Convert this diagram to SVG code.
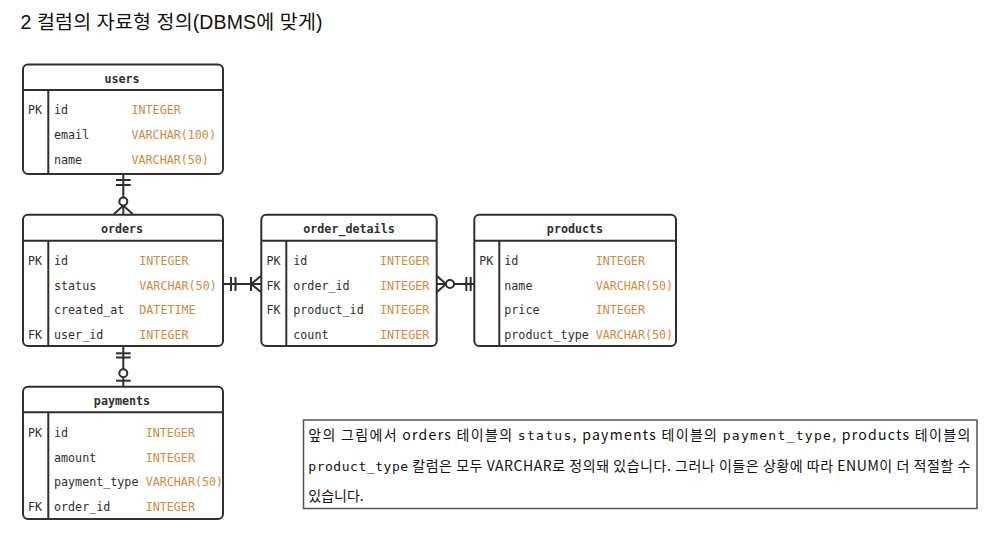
<svg xmlns="http://www.w3.org/2000/svg" width="998" height="544" viewBox="0 0 998 544">
<style>
.box{fill:#fff;stroke:#2f2f2f;stroke-width:2}
.ln{stroke:#2f2f2f;stroke-width:2;fill:none}
.hd{font-family:"DejaVu Sans Mono",monospace;font-size:11.7px;font-weight:bold;fill:#2f2f2f;text-anchor:middle}
.t{font-family:"DejaVu Sans Mono",monospace;font-size:11.7px;fill:#2f2f2f}
.ty{font-family:"DejaVu Sans Mono",monospace;font-size:11.7px;fill:#d4893a}
.c{stroke:#2f2f2f;stroke-width:2;fill:none}
.o{stroke:#2f2f2f;stroke-width:2;fill:#fff}
.title{font-family:"Liberation Sans","Noto Sans CJK KR",sans-serif;font-size:19.5px;fill:#111}
.note{font-family:"Noto Sans CJK KR",sans-serif;font-size:14px;fill:#111}
.m{font-family:"DejaVu Sans Mono",monospace;font-size:13px}
</style>
<rect width="998" height="544" fill="#fff"/>
<text class="title" x="20.5" y="29" textLength="302" lengthAdjust="spacing">2 컬럼의 자료형 정의(DBMS에 맞게)</text>

<g id="users">
<rect class="box" x="23" y="64.5" width="200" height="109.5" rx="5"/>
<line class="ln" x1="23" y1="90" x2="223" y2="90"/>
<line class="ln" x1="48.3" y1="90" x2="48.3" y2="174"/>
<text class="hd" x="122" y="83">users</text>
<text class="t" x="28" y="114">PK</text>
<text class="t" x="54" y="114">id</text><text class="ty" x="131.5" y="114">INTEGER</text>
<text class="t" x="54" y="139">email</text><text class="ty" x="131.5" y="139">VARCHAR(100)</text>
<text class="t" x="54" y="164">name</text><text class="ty" x="131.5" y="164">VARCHAR(50)</text>
</g>

<g id="orders">
<rect class="box" x="23" y="214.7" width="200" height="131.3" rx="5"/>
<line class="ln" x1="23" y1="240.7" x2="223" y2="240.7"/>
<line class="ln" x1="48.3" y1="240.7" x2="48.3" y2="346"/>
<text class="hd" x="122" y="233">orders</text>
<text class="t" x="28" y="265">PK</text>
<text class="t" x="28" y="338.5">FK</text>
<text class="t" x="54" y="265">id</text><text class="ty" x="139.3" y="265">INTEGER</text>
<text class="t" x="54" y="289.5">status</text><text class="ty" x="139.3" y="289.5">VARCHAR(50)</text>
<text class="t" x="54" y="314">created_at</text><text class="ty" x="139.3" y="314">DATETIME</text>
<text class="t" x="54" y="338.5">user_id</text><text class="ty" x="139.3" y="338.5">INTEGER</text>
</g>

<g id="order_details">
<rect class="box" x="261.3" y="214.7" width="175.4" height="131.3" rx="5"/>
<line class="ln" x1="261.3" y1="240.7" x2="436.7" y2="240.7"/>
<line class="ln" x1="286.3" y1="240.7" x2="286.3" y2="346"/>
<text class="hd" x="349" y="233">order_details</text>
<text class="t" x="266.5" y="265">PK</text>
<text class="t" x="266.5" y="289.5">FK</text>
<text class="t" x="266.5" y="314">FK</text>
<text class="t" x="293.3" y="265">id</text><text class="ty" x="380" y="265">INTEGER</text>
<text class="t" x="293.3" y="289.5">order_id</text><text class="ty" x="380" y="289.5">INTEGER</text>
<text class="t" x="293.3" y="314">product_id</text><text class="ty" x="380" y="314">INTEGER</text>
<text class="t" x="293.3" y="338.5">count</text><text class="ty" x="380" y="338.5">INTEGER</text>
</g>

<g id="products">
<rect class="box" x="474.3" y="214.7" width="201.7" height="131.3" rx="5"/>
<line class="ln" x1="474.3" y1="240.7" x2="676" y2="240.7"/>
<line class="ln" x1="499.3" y1="240.7" x2="499.3" y2="346"/>
<text class="hd" x="575" y="233">products</text>
<text class="t" x="479.3" y="265">PK</text>
<text class="t" x="504.3" y="265">id</text><text class="ty" x="595.7" y="265">INTEGER</text>
<text class="t" x="504.3" y="289.5">name</text><text class="ty" x="595.7" y="289.5">VARCHAR(50)</text>
<text class="t" x="504.3" y="314">price</text><text class="ty" x="595.7" y="314">INTEGER</text>
<text class="t" x="504.3" y="338.5">product_type</text><text class="ty" x="595.7" y="338.5">VARCHAR(50)</text>
</g>

<g id="payments">
<rect class="box" x="23" y="386.7" width="200" height="132.3" rx="5"/>
<line class="ln" x1="23" y1="412.3" x2="223" y2="412.3"/>
<line class="ln" x1="48.3" y1="412.3" x2="48.3" y2="519"/>
<text class="hd" x="122" y="405">payments</text>
<text class="t" x="28" y="437">PK</text>
<text class="t" x="28" y="510.5">FK</text>
<text class="t" x="54" y="437">id</text><text class="ty" x="145.7" y="437">INTEGER</text>
<text class="t" x="54" y="461.5">amount</text><text class="ty" x="145.7" y="461.5">INTEGER</text>
<text class="t" x="54" y="486">payment_type</text><text class="ty" x="145.7" y="486">VARCHAR(50)</text>
<text class="t" x="54" y="510.5">order_id</text><text class="ty" x="145.7" y="510.5">INTEGER</text>
</g>

<g id="connectors">
<!-- users - orders -->
<line class="c" x1="123.3" y1="175" x2="123.3" y2="214"/>
<line class="c" x1="116" y1="180" x2="130.7" y2="180"/>
<line class="c" x1="116" y1="185" x2="130.7" y2="185"/>
<path class="c" d="M114 214 L123.3 205.5 L132.7 214"/>
<circle class="o" cx="123.3" cy="201.5" r="4"/>
<!-- orders - order_details -->
<line class="c" x1="224" y1="284" x2="261" y2="284"/>
<line class="c" x1="231" y1="277" x2="231" y2="291"/>
<line class="c" x1="235.5" y1="277" x2="235.5" y2="291"/>
<line class="c" x1="251" y1="277" x2="251" y2="291"/>
<path class="c" d="M261 276 L251 284 L261 292"/>
<!-- order_details - products -->
<line class="c" x1="437" y1="284" x2="474" y2="284"/>
<path class="c" d="M437 276 L446 284 L437 292"/>
<circle class="o" cx="450" cy="284" r="4"/>
<line class="c" x1="466.3" y1="277" x2="466.3" y2="291"/>
<line class="c" x1="470.7" y1="277" x2="470.7" y2="291"/>
<!-- orders - payments -->
<line class="c" x1="123.3" y1="347" x2="123.3" y2="386"/>
<line class="c" x1="116" y1="353.3" x2="130.7" y2="353.3"/>
<line class="c" x1="116" y1="357.5" x2="130.7" y2="357.5"/>
<circle class="o" cx="123.3" cy="373.3" r="4"/>
<line class="c" x1="116" y1="380.7" x2="130.7" y2="380.7"/>
</g>

<g id="note">
<rect x="303.5" y="420" width="673.5" height="88.5" fill="#fff" stroke="#555" stroke-width="1.5"/>
<text class="note" x="308.3" y="440" textLength="662" lengthAdjust="spacing">앞의 그림에서 orders 테이블의 <tspan class="m">status</tspan>, payments 테이블의 <tspan class="m">payment_type</tspan>, products 테이블의</text>
<text class="note" x="308.3" y="470.5" textLength="662" lengthAdjust="spacing"><tspan class="m">product_type</tspan> 칼럼은 모두 VARCHAR로 정의돼 있습니다. 그러나 이들은 상황에 따라 ENUM이 더 적절할 수</text>
<text class="note" x="308.3" y="501">있습니다.</text>
</g>
</svg>
